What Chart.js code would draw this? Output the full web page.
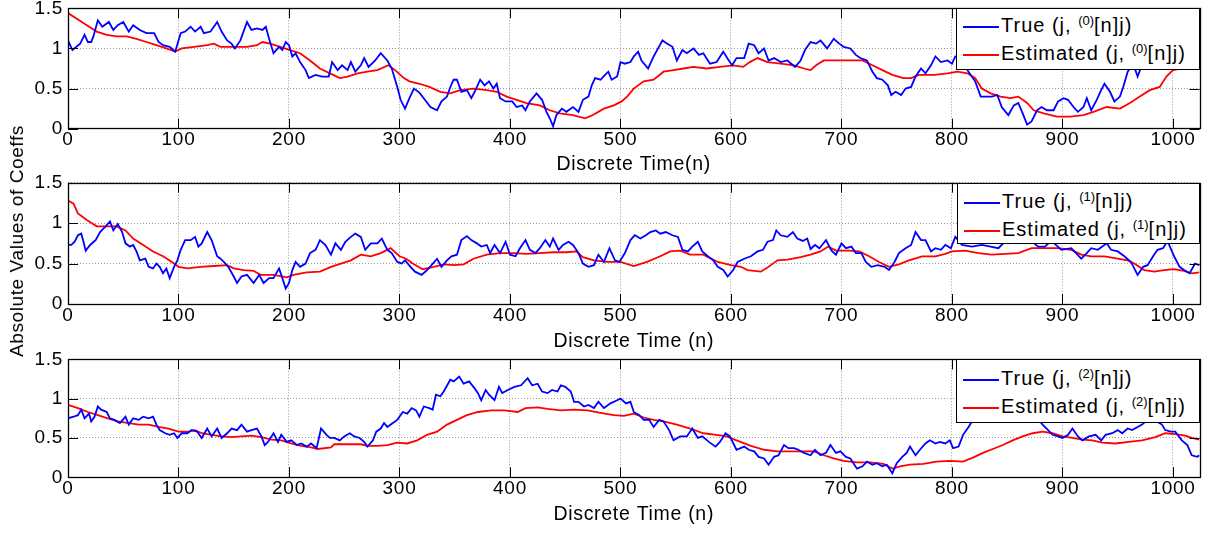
<!DOCTYPE html>
<html>
<head>
<meta charset="utf-8">
<script src="https://cdn.jsdelivr.net/npm/chart.js@4/dist/chart.umd.min.js"></script>
<style>
  html, body { margin: 0; padding: 0; background: #fff; }
  #wrap { position: relative; width: 1210px; height: 533px; overflow: hidden; font-family: "Liberation Sans", Arial, sans-serif; }
  canvas { position: absolute; left: 0; }
  .ylab { position: absolute; left: 17px; top: 241px; transform: translate(-50%, -50%) rotate(-90deg); white-space: nowrap; font-size: 19px; letter-spacing: 0.6px; color: #000; }
  .legend { position: absolute; box-sizing: border-box; background: #fff; border: 1px solid #000; font-size: 20px; letter-spacing: 1px; color: #000; }
  .legend .row { position: absolute; left: 6px; height: 22px; line-height: 22px; white-space: nowrap; }
  .legend .swatch { display: inline-block; width: 36px; border-top: 2px solid; vertical-align: middle; margin-right: 2px; }
  .legend sup { font-size: 13px; line-height: 0; vertical-align: 7px; letter-spacing: 0; }
</style>
</head>
<body>
<div id="wrap">
  <canvas id="c0" width="1210" height="186" style="top:-6px"></canvas>
  <canvas id="c1" width="1210" height="186" style="top:170px"></canvas>
  <canvas id="c2" width="1210" height="188" style="top:345px"></canvas>
  <div class="ylab">Absolute Values of Coeffs</div>
</div>
<script>
// band 0: true coefficient magnitude and its estimate
var nTrue0 = [0,4,11,15,18,21,23,27,31,37,41,45,50,55,59,65,71,78,82,86,92,97,102,106,111,115,120,123,129,135,139,144,148,151,156,162,166,171,176,179,182,186,191,194,197,200,203,206,210,215,218,224,230,236,239,244,248,253,256,260,265,268,272,278,283,289,293,298,301,305,309,313,318,323,328,334,338,343,346,349,352,356,361,365,368,373,377,381,385,388,391,396,402,406,411,414,418,424,429,433,436,439,442,447,451,457,462,466,471,474,477,482,486,489,492,497,500,504,509,512,516,519,525,530,534,538,542,547,551,556,560,566,571,575,581,587,593,598,601,605,612,616,621,625,630,634,639,645,651,658,663,667,672,677,681,687,693,698,702,708,713,717,723,728,732,737,742,745,749,754,758,763,767,772,776,781,785,790,796,800,803,808,813,817,821,826,830,836,841,845,851,856,860,864,868,872,877,881,886,892,896,901,905,910,914,919,922,926,931,935,938,943,947,952,955,959,964,968,972,978,985,992,1000,1008,1016,1024];
var vTrue0 = [1.10,0.98,1.06,1.17,1.08,1.08,1.15,1.35,1.27,1.33,1.23,1.29,1.33,1.21,1.29,1.23,1.19,1.19,1.08,1.04,1.02,0.96,1.19,1.21,1.27,1.21,1.27,1.19,1.21,1.33,1.21,1.10,1.06,1.00,1.10,1.33,1.23,1.25,1.23,1.27,1.12,0.94,1.02,0.98,1.08,1.04,0.90,0.94,0.83,0.73,0.63,0.67,0.65,0.65,0.83,0.73,0.79,0.73,0.83,0.71,0.79,0.88,0.77,0.85,0.94,0.85,0.75,0.52,0.36,0.25,0.38,0.50,0.45,0.36,0.27,0.23,0.34,0.40,0.52,0.61,0.61,0.46,0.48,0.38,0.46,0.61,0.54,0.59,0.50,0.56,0.38,0.34,0.34,0.27,0.29,0.23,0.34,0.44,0.36,0.21,0.13,0.03,0.17,0.25,0.21,0.27,0.21,0.36,0.40,0.54,0.63,0.61,0.67,0.71,0.61,0.65,0.83,0.81,0.83,0.90,0.96,0.85,0.75,0.90,1.00,1.10,1.06,1.02,0.85,0.98,0.94,1.00,0.92,0.94,0.81,0.83,0.96,0.85,0.79,0.88,0.88,1.06,1.04,0.94,1.00,0.85,0.88,0.83,0.85,0.77,0.85,0.98,1.08,1.06,1.10,1.00,1.12,1.06,1.02,1.00,0.92,0.88,0.85,0.71,0.63,0.61,0.54,0.42,0.46,0.42,0.50,0.52,0.65,0.75,0.69,0.79,0.90,0.83,0.85,0.81,0.90,0.86,0.75,0.67,0.59,0.40,0.40,0.40,0.42,0.27,0.17,0.29,0.32,0.19,0.05,0.09,0.23,0.27,0.23,0.23,0.34,0.38,0.36,0.27,0.21,0.27,0.38,0.23,0.36,0.48,0.56,0.46,0.34,0.40,0.52,0.71,0.81,0.65,0.80,0.90,0.95,1.00,0.98,1.05,0.95,0.92];
var nEst0 = [0,8,17,26,35,44,53,62,71,80,89,97,103,114,126,132,138,150,162,171,176,183,192,201,210,219,228,237,246,253,262,271,280,290,296,304,309,318,327,337,346,355,367,379,388,397,406,415,427,436,445,457,468,475,485,494,501,506,512,521,530,539,548,557,566,578,590,602,611,617,624,633,645,657,666,672,677,684,696,708,719,728,737,746,756,763,770,784,796,805,814,821,827,835,844,853,860,868,874,883,895,907,919,928,940,952,961,970,979,988,994,1000,1012,1024];
var vEst0 = [1.44,1.37,1.29,1.21,1.17,1.15,1.15,1.12,1.08,1.04,1.00,0.96,1.00,1.02,1.04,1.06,1.02,1.02,1.02,1.04,1.08,1.06,1.02,0.98,0.94,0.85,0.75,0.69,0.63,0.65,0.69,0.71,0.73,0.79,0.73,0.63,0.59,0.56,0.52,0.46,0.44,0.48,0.50,0.48,0.46,0.40,0.36,0.32,0.29,0.23,0.19,0.17,0.13,0.17,0.25,0.29,0.34,0.40,0.50,0.59,0.61,0.71,0.73,0.75,0.77,0.75,0.77,0.79,0.77,0.83,0.88,0.83,0.81,0.79,0.75,0.73,0.79,0.85,0.85,0.85,0.85,0.79,0.73,0.67,0.63,0.63,0.67,0.67,0.69,0.71,0.69,0.63,0.50,0.44,0.40,0.38,0.40,0.32,0.23,0.19,0.15,0.15,0.17,0.21,0.27,0.25,0.32,0.40,0.48,0.52,0.65,0.73,0.76,0.78];

// band 1
var nTrue1 = [0,3,6,9,12,14,16,20,25,29,34,38,41,45,49,52,56,59,62,65,70,73,77,80,83,86,89,92,96,99,102,106,111,115,118,121,126,130,135,138,141,145,150,153,157,162,168,173,177,182,186,191,194,197,200,203,206,210,215,219,224,228,233,238,242,247,251,256,260,265,269,274,280,284,289,293,298,302,305,310,314,320,325,329,334,338,343,347,352,356,361,365,370,374,379,382,386,391,396,400,405,409,414,418,423,427,432,436,439,444,448,453,457,462,466,471,476,480,485,490,495,499,504,509,513,518,523,527,532,536,541,547,552,556,561,565,570,574,579,584,588,593,597,602,606,612,618,624,629,633,638,641,645,651,656,660,665,669,672,676,680,686,691,695,700,704,709,713,718,722,727,733,739,743,748,752,758,763,767,772,776,781,785,790,794,799,803,809,818,827,835,842,850,860,870,878,884,890,899,908,917,922,926,932,940,944,950,956,962,968,973,977,982,986,991,995,1001,1006,1010,1015,1020,1024];
var vTrue1 = [0.73,0.73,0.77,0.85,0.87,0.77,0.66,0.73,0.79,0.89,0.96,1.02,0.91,0.99,0.89,0.75,0.71,0.73,0.65,0.54,0.56,0.46,0.44,0.50,0.46,0.38,0.44,0.32,0.46,0.54,0.67,0.79,0.79,0.83,0.71,0.75,0.89,0.79,0.59,0.56,0.52,0.46,0.34,0.26,0.34,0.36,0.26,0.36,0.26,0.32,0.32,0.44,0.32,0.19,0.26,0.42,0.52,0.46,0.50,0.63,0.67,0.79,0.73,0.61,0.75,0.67,0.77,0.83,0.87,0.83,0.67,0.75,0.75,0.81,0.67,0.63,0.52,0.50,0.54,0.46,0.40,0.36,0.42,0.48,0.56,0.46,0.54,0.59,0.61,0.79,0.84,0.79,0.75,0.71,0.73,0.63,0.73,0.63,0.77,0.61,0.59,0.69,0.79,0.67,0.63,0.69,0.79,0.71,0.81,0.67,0.73,0.77,0.73,0.63,0.50,0.46,0.48,0.61,0.52,0.69,0.54,0.52,0.63,0.79,0.85,0.81,0.85,0.89,0.91,0.87,0.89,0.85,0.83,0.67,0.65,0.71,0.77,0.65,0.59,0.54,0.46,0.42,0.34,0.42,0.52,0.56,0.59,0.65,0.67,0.77,0.79,0.91,0.85,0.83,0.89,0.81,0.78,0.81,0.68,0.73,0.69,0.79,0.66,0.61,0.75,0.69,0.71,0.63,0.63,0.52,0.46,0.48,0.46,0.42,0.52,0.63,0.69,0.73,0.89,0.79,0.79,0.65,0.69,0.67,0.73,0.69,0.83,0.73,0.71,0.73,0.71,0.69,0.80,0.85,0.80,0.71,0.71,0.78,0.67,0.69,0.56,0.63,0.69,0.67,0.75,0.67,0.65,0.59,0.52,0.36,0.46,0.48,0.59,0.67,0.69,0.78,0.59,0.46,0.42,0.38,0.50,0.48];
var nEst1 = [0,5,9,17,26,35,44,52,59,68,77,86,94,100,108,120,132,144,150,159,168,174,186,198,204,216,228,238,247,256,265,274,283,292,300,306,312,317,321,331,340,349,358,367,379,391,403,415,427,439,451,460,466,476,488,500,512,524,536,545,554,563,575,588,600,609,615,627,633,642,651,663,672,681,688,695,707,716,725,734,743,752,761,773,785,794,800,812,824,836,848,860,872,884,896,908,917,926,938,950,959,965,974,983,992,1001,1010,1017,1024];
var vEst1 = [1.28,1.24,1.12,1.04,0.96,0.96,0.96,0.91,0.81,0.73,0.65,0.59,0.52,0.46,0.44,0.46,0.47,0.48,0.44,0.42,0.41,0.36,0.36,0.33,0.36,0.39,0.40,0.46,0.50,0.54,0.61,0.59,0.63,0.69,0.59,0.56,0.50,0.46,0.43,0.46,0.49,0.48,0.49,0.56,0.61,0.63,0.63,0.62,0.63,0.64,0.64,0.65,0.58,0.54,0.52,0.52,0.47,0.52,0.59,0.65,0.66,0.61,0.61,0.52,0.48,0.46,0.42,0.40,0.45,0.54,0.55,0.58,0.61,0.65,0.71,0.66,0.66,0.65,0.59,0.52,0.46,0.49,0.54,0.59,0.59,0.62,0.65,0.66,0.63,0.61,0.62,0.63,0.69,0.69,0.69,0.67,0.61,0.59,0.59,0.56,0.54,0.50,0.42,0.40,0.42,0.43,0.41,0.38,0.39];

// band 2
var nTrue2 = [0,5,9,12,15,19,21,24,27,30,35,38,42,47,52,55,59,64,68,73,77,80,83,88,92,96,99,103,108,112,117,121,126,130,135,139,144,148,153,157,162,166,171,175,178,181,186,190,193,198,202,207,211,216,220,225,229,234,237,241,246,250,255,259,264,268,271,276,279,283,286,289,294,298,303,307,311,315,318,322,327,330,333,337,340,346,349,354,358,363,368,371,374,378,381,386,390,393,398,404,410,416,420,425,429,434,438,443,446,450,455,458,462,467,471,476,480,485,491,497,500,505,509,512,517,521,526,530,535,539,544,548,554,560,565,570,574,580,586,590,595,599,605,612,616,621,625,630,634,639,643,648,652,657,661,666,672,676,681,686,690,695,699,704,708,714,719,723,728,732,737,741,746,750,755,759,762,767,771,776,780,785,789,794,798,801,806,810,815,818,823,830,840,850,860,870,878,882,887,891,896,900,905,909,914,918,924,930,935,939,945,950,954,959,963,968,972,978,984,990,993,998,1002,1008,1013,1017,1022,1024];
var vTrue2 = [0.75,0.77,0.79,0.86,0.75,0.81,0.71,0.77,0.90,0.86,0.83,0.75,0.73,0.69,0.77,0.67,0.75,0.73,0.77,0.75,0.77,0.67,0.60,0.56,0.54,0.56,0.50,0.56,0.56,0.60,0.58,0.50,0.62,0.52,0.62,0.50,0.56,0.62,0.60,0.67,0.58,0.60,0.62,0.52,0.41,0.45,0.56,0.45,0.54,0.45,0.47,0.41,0.43,0.39,0.43,0.37,0.62,0.54,0.50,0.50,0.47,0.52,0.56,0.52,0.50,0.45,0.39,0.47,0.58,0.62,0.69,0.64,0.69,0.73,0.83,0.81,0.88,0.85,0.77,0.90,0.88,0.86,1.05,1.03,1.09,1.24,1.22,1.28,1.19,1.22,1.13,1.07,0.98,1.11,1.05,0.98,1.15,1.07,1.11,1.15,1.17,1.26,1.17,1.19,1.09,1.07,1.11,1.09,1.17,1.15,1.09,0.96,0.96,0.90,0.92,0.88,0.96,0.88,0.94,0.98,1.00,0.94,0.96,0.83,0.79,0.73,0.73,0.64,0.73,0.71,0.60,0.47,0.52,0.52,0.62,0.50,0.52,0.45,0.39,0.45,0.56,0.52,0.35,0.39,0.35,0.33,0.26,0.24,0.16,0.26,0.28,0.41,0.37,0.37,0.35,0.31,0.28,0.35,0.28,0.31,0.41,0.31,0.33,0.26,0.24,0.11,0.14,0.20,0.16,0.18,0.14,0.16,0.05,0.18,0.26,0.31,0.39,0.28,0.35,0.43,0.47,0.43,0.45,0.43,0.47,0.37,0.39,0.54,0.64,0.71,0.85,0.95,0.98,0.92,0.88,0.80,0.74,0.67,0.60,0.54,0.52,0.50,0.54,0.62,0.52,0.47,0.52,0.54,0.47,0.54,0.56,0.60,0.56,0.62,0.60,0.64,0.67,0.74,0.72,0.67,0.60,0.58,0.58,0.47,0.41,0.28,0.26,0.28];
var nEst2 = [0,9,18,27,36,45,55,64,73,82,91,100,109,115,121,130,139,148,157,166,175,184,193,202,211,220,226,238,241,253,265,271,280,289,298,307,316,325,334,343,352,361,371,383,395,407,414,425,434,446,458,470,482,494,503,512,521,530,539,551,563,575,587,596,605,618,630,642,654,666,675,684,693,702,714,726,738,746,753,762,774,786,798,810,819,828,837,846,855,864,873,882,891,900,909,918,927,936,948,960,972,984,993,1002,1011,1017,1024];
var vEst2 = [0.92,0.88,0.83,0.79,0.75,0.71,0.69,0.67,0.67,0.64,0.62,0.58,0.58,0.60,0.56,0.54,0.52,0.51,0.52,0.53,0.51,0.48,0.47,0.43,0.40,0.38,0.36,0.38,0.42,0.42,0.42,0.40,0.40,0.41,0.44,0.43,0.47,0.54,0.58,0.67,0.73,0.79,0.83,0.85,0.85,0.83,0.88,0.89,0.87,0.85,0.86,0.85,0.82,0.79,0.78,0.81,0.76,0.73,0.71,0.67,0.62,0.56,0.54,0.52,0.47,0.40,0.35,0.33,0.33,0.33,0.33,0.28,0.24,0.21,0.19,0.19,0.17,0.11,0.14,0.16,0.17,0.20,0.21,0.20,0.25,0.31,0.36,0.41,0.47,0.52,0.56,0.58,0.56,0.52,0.50,0.48,0.47,0.44,0.43,0.45,0.47,0.51,0.56,0.55,0.53,0.50,0.48];

var xTicks = [0, 100, 200, 300, 400, 500, 600, 700, 800, 900, 1000];
var yTicks = [0, 0.5, 1, 1.5];
var xTitles = ['Discrete Time(n)', 'Discrete Time (n)', 'Discrete Time (n)'];
var legendIdx = ['(0)', '(1)', '(2)'];

var FONT = '"Liberation Sans", Arial, sans-serif';

function pairs(xs, ys) {
  return xs.map(function (x, i) { return { x: x, y: ys[i] }; });
}

// MATLAB-style box with inward tick marks on all four sides
var boxTicks = {
  id: 'boxTicks',
  beforeDraw: function (chart) { chart.ctx.letterSpacing = '0.7px'; },
  afterDraw: function (chart) {
    var a = chart.chartArea, ctx = chart.ctx, sx = chart.scales.x, sy = chart.scales.y;
    var len = 10;
    ctx.save();
    ctx.strokeStyle = '#000';
    ctx.lineWidth = 1;
    ctx.beginPath();
    xTicks.forEach(function (v) {
      var px = Math.round(sx.getPixelForValue(v)) + 0.5;
      ctx.moveTo(px, a.bottom); ctx.lineTo(px, a.bottom - len);
      ctx.moveTo(px, a.top); ctx.lineTo(px, a.top + len);
    });
    yTicks.forEach(function (v) {
      var py = Math.round(sy.getPixelForValue(v)) + 0.5;
      ctx.moveTo(a.left, py); ctx.lineTo(a.left + len, py);
      ctx.moveTo(a.right, py); ctx.lineTo(a.right - len, py);
    });
    ctx.stroke();
    ctx.lineWidth = 1.3;
    ctx.strokeRect(Math.round(a.left) + 0.5, Math.round(a.top) + 0.5, Math.round(a.right - a.left), Math.round(a.bottom - a.top));
    ctx.restore();
  }
};

function makePanel(k, cfg) {
  new Chart(document.getElementById('c' + k), {
    type: 'line',
    data: {
      datasets: [
        { data: pairs(cfg.nt, cfg.vt), borderColor: '#0000ff', borderWidth: 1.8, pointRadius: 0, tension: 0 },
        { data: pairs(cfg.ne, cfg.ve), borderColor: '#ff0000', borderWidth: 1.8, pointRadius: 0, tension: 0 }
      ]
    },
    options: {
      responsive: false,
      animation: false,
      devicePixelRatio: 1,
      events: [],
      layout: { padding: { top: cfg.padTop, right: 10.5, left: 0, bottom: 0 } },
      plugins: { legend: { display: false }, tooltip: { enabled: false } },
      scales: {
        x: {
          type: 'linear', min: 0, max: 1024,
          afterBuildTicks: function (s) { s.ticks = xTicks.map(function (v) { return { value: v }; }); },
          afterFit: function (s) { s.height = cfg.xHeight; s.paddingLeft = 0; s.paddingRight = 0; },
          ticks: { color: '#000', font: { family: FONT, size: 19 }, padding: 0, maxRotation: 0, autoSkip: false,
                   callback: function (v) { return String(v); } },
          grid: { color: '#9a9a9a', lineWidth: 1, drawTicks: false },
          border: { display: false, dash: [1, 2] },
          title: { display: true, text: cfg.title, color: '#000', font: { family: FONT, size: 19.5 },
                   padding: { top: 0, bottom: cfg.titlePad } }
        },
        y: {
          min: 0, max: 1.5,
          afterBuildTicks: function (s) { s.ticks = yTicks.map(function (v) { return { value: v }; }); },
          afterFit: function (s) { s.width = 68; s.paddingTop = 0; s.paddingBottom = 0; },
          ticks: { color: '#000', font: { family: FONT, size: 19 }, padding: 5,
                   callback: function (v) { return String(v); } },
          grid: { color: '#9a9a9a', lineWidth: 1, drawTicks: false },
          border: { display: false, dash: [1, 2] }
        }
      }
    },
    plugins: [boxTicks]
  });
}

makePanel(0, { nt: nTrue0, vt: vTrue0, ne: nEst0, ve: vEst0, padTop: 14.3, xHeight: 51.3, titlePad: 4, title: xTitles[0] });
makePanel(1, { nt: nTrue1, vt: vTrue1, ne: nEst1, ve: vEst1, padTop: 12.7, xHeight: 52, titlePad: 3, title: xTitles[1] });
makePanel(2, { nt: nTrue2, vt: vTrue2, ne: nEst2, ve: vEst2, padTop: 14.3, xHeight: 55.7, titlePad: 7, title: xTitles[2] });

// legends, one per band
var boxes = [
  { left: 956, top: 8, height: 62 },
  { left: 957, top: 183, height: 61 },
  { left: 956, top: 359, height: 64 }
];
var wrap = document.getElementById('wrap');
boxes.forEach(function (b, k) {
  var el = document.createElement('div');
  el.className = 'legend';
  el.style.left = b.left + 'px';
  el.style.top = b.top + 'px';
  el.style.width = (1200 - b.left) + 'px';
  el.style.height = b.height + 'px';
  el.innerHTML =
    '<div class="row" style="top:' + (5 + k) + 'px"><span class="swatch" style="border-color:#0000ff"></span>True (j, <sup>' + legendIdx[k] + '</sup>[n]j)</div>' +
    '<div class="row" style="top:' + (33 + k) + 'px"><span class="swatch" style="border-color:#ff0000"></span>Estimated (j, <sup>' + legendIdx[k] + '</sup>[n]j)</div>';
  wrap.appendChild(el);
});
</script>
</body>
</html>
